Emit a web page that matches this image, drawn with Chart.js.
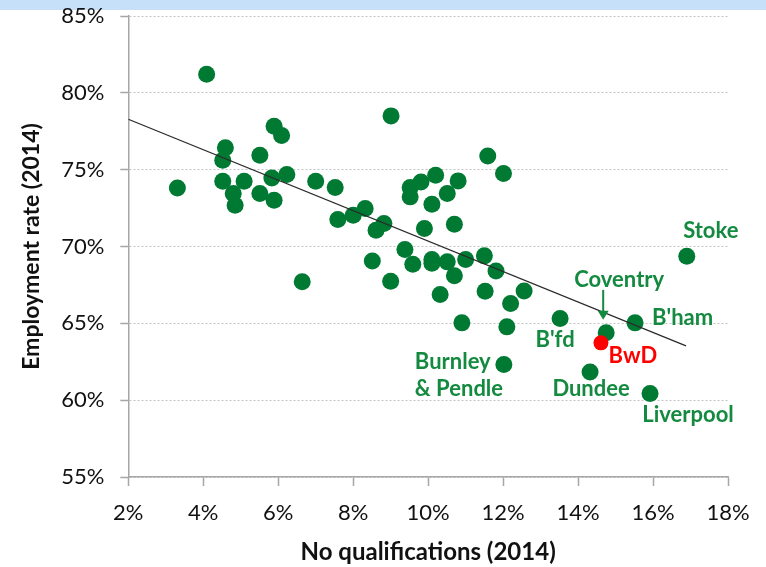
<!DOCTYPE html>
<html>
<head>
<meta charset="utf-8">
<script src="https://cdn.jsdelivr.net/npm/chart.js@4"></script>
<style>
  html, body { margin: 0; padding: 0; background: #fff; }
  #band { position: absolute; left: 0; top: 0; width: 766px; height: 10px; background: #C6E0F9; }
  #wrap { position: absolute; left: 0; top: 0; width: 766px; height: 567px; }
</style>
</head>
<body>
<div id="band"></div>
<div id="wrap"><canvas id="c" width="766" height="567"></canvas></div>
<script>
// ---- data ----
const qualX = [3.31, 4.09, 4.59, 4.52, 4.52, 4.80, 4.85, 5.09, 5.51, 5.51,
               5.83, 5.89, 6.09, 5.89, 6.23, 6.64, 7.00, 7.52, 7.59, 8.00,
               8.32, 8.51, 8.61, 8.82, 9.01, 9.00, 9.38, 9.52, 9.52, 9.59,
               9.81, 9.90, 10.10, 10.20, 10.10, 10.10, 10.32, 10.51, 10.51, 10.70,
               10.70, 10.80, 10.90, 11.00, 11.50, 11.52, 11.59, 11.81, 12.01, 12.10,
               12.20, 12.56];
const empY  = [73.81, 81.21, 76.42, 75.61, 74.25, 73.45, 72.69, 74.25, 75.94, 73.45,
               74.46, 77.83, 77.22, 73.01, 74.68, 67.70, 74.25, 73.84, 71.76, 72.04,
               72.47, 69.06, 71.06, 71.49, 78.50, 67.74, 69.80, 73.84, 73.23, 68.85,
               74.20, 71.17, 72.75, 74.64, 69.15, 68.91, 66.88, 73.45, 69.00, 71.45,
               68.09, 74.27, 65.03, 69.15, 69.39, 67.09, 75.89, 68.41, 74.75, 64.77,
               66.29, 67.11];
const namedPlaces = ["B'fd", "Coventry", "B'ham", "Stoke", "Burnley\n& Pendle", "Dundee", "Liverpool"];
const namedX = [13.52, 14.75, 15.52, 16.90, 12.02, 14.32, 15.92];
const namedY = [65.32, 64.38, 65.03, 69.37, 62.32, 61.84, 60.44];
const bwdName = ["BwD"];
const bwdX = [14.61];
const bwdY = [63.73];
const trendX = [2, 16.88];
const trendY = [78.28, 63.53];
const xTicks = [2, 4, 6, 8, 10, 12, 14, 16, 18];
const yTicks = [55, 60, 65, 70, 75, 80, 85];

// ---- styles ----
const GREEN = '#007A33';
const LABEL_GREEN = '#138A3F';
const RED = '#FF0000';
const FONT = 'Lato, "Liberation Sans", sans-serif';
// label offsets in pixels from the point: [dx, dy, align]
const labelStyle = {
  "B'fd": [-5, 21, 'center'],
  "Coventry": [13, -53, 'center'],
  "B'ham": [17, -5, 'left'],
  "Stoke": [24, -25, 'center'],
  "Burnley\n& Pendle": [-89, -3, 'left'],
  "Dundee": [1, 17, 'center'],
  "Liverpool": [38, 22, 'center'],
  "BwD": [32, 13, 'center']
};

const toPts = (xs, ys) => xs.map((x, i) => ({ x: x, y: ys[i] }));

const labelPlugin = {
  id: 'pointLabels',
  afterDatasetsDraw(chart) {
    const ctx = chart.ctx;
    const xs = chart.scales.x, ys = chart.scales.y;
    ctx.save();
    ctx.font = 'bold 22px ' + FONT;
    ctx.textBaseline = 'middle';
    const drawSet = (names, X, Y, color) => {
      names.forEach((name, i) => {
        const px = xs.getPixelForValue(X[i]);
        const py = ys.getPixelForValue(Y[i]);
        const st = labelStyle[name];
        ctx.fillStyle = color;
        ctx.textAlign = st[2];
        const lines = name.split('\n');
        lines.forEach((ln, j) => {
          ctx.fillText(ln, px + st[0], py + st[1] + j * 27);
        });
        if (name === 'Coventry') {
          const ax = px - 3;
          const y0 = py - 43, y1 = py - 13;
          ctx.strokeStyle = color;
          ctx.lineWidth = 2;
          ctx.beginPath();
          ctx.moveTo(ax, y0);
          ctx.lineTo(ax, y1 - 8);
          ctx.stroke();
          ctx.beginPath();
          ctx.moveTo(ax - 5.5, y1 - 9);
          ctx.lineTo(ax + 5.5, y1 - 9);
          ctx.lineTo(ax, y1);
          ctx.closePath();
          ctx.fill();
        }
      });
    };
    drawSet(namedPlaces, namedX, namedY, LABEL_GREEN);
    drawSet(bwdName, bwdX, bwdY, RED);
    ctx.restore();
  }
};

new Chart(document.getElementById('c'), {
  type: 'scatter',
  data: {
    datasets: [
      {
        type: 'line',
        data: toPts(trendX, trendY),
        borderColor: '#2b2b2b',
        borderWidth: 1.3,
        pointRadius: 0,
        fill: false,
        order: 0
      },
      {
        data: toPts(bwdX, bwdY),
        backgroundColor: RED,
        borderWidth: 0,
        pointRadius: 7.5,
        order: 1
      },
      {
        data: toPts(namedX, namedY),
        backgroundColor: GREEN,
        borderWidth: 0,
        pointRadius: 8.5,
        order: 2
      },
      {
        data: toPts(qualX, empY),
        backgroundColor: GREEN,
        borderWidth: 0,
        pointRadius: 8.5,
        order: 3
      }
    ]
  },
  options: {
    responsive: false,
    animation: false,
    events: [],
    layout: { padding: { top: 16, right: 38, bottom: 0, left: 0 } },
    plugins: { legend: { display: false }, tooltip: { enabled: false } },
    scales: {
      x: {
        type: 'linear',
        min: 2, max: 18,
        afterBuildTicks: (s) => { s.ticks = xTicks.map(v => ({ value: v })); },
        afterFit: (s) => { s.height = 90; s.paddingLeft = 0; s.paddingRight = 0; },
        ticks: {
          callback: (v) => v + '%',
          color: '#111',
          font: { family: FONT, size: 22 },
          padding: 14,
          maxRotation: 0
        },
        grid: { drawOnChartArea: false, drawTicks: true, tickLength: 9, tickColor: '#A6A6A6', tickWidth: 1.5 },
        border: { display: true, color: '#A6A6A6', width: 1.5 },
        title: {
          display: true,
          text: 'No qualifications (2014)',
          color: '#111',
          font: { family: FONT, size: 24, weight: 'bold' },
          padding: { top: 2, bottom: 0 }
        }
      },
      y: {
        type: 'linear',
        min: 55, max: 85,
        afterBuildTicks: (s) => { s.ticks = yTicks.map(v => ({ value: v })); },
        afterFit: (s) => { s.width = 128.3; s.paddingTop = 0; s.paddingBottom = 0; },
        ticks: {
          callback: (v) => v + '%',
          color: '#111',
          font: { family: FONT, size: 22 },
          padding: 16
        },
        grid: { color: '#C4C4C4', lineWidth: 1, drawTicks: true, tickLength: 8, tickColor: '#A6A6A6', tickWidth: 1.5 },
        border: { display: true, color: '#A6A6A6', width: 1.5, dash: [2, 2] },
        title: {
          display: true,
          text: 'Employment rate (2014)',
          color: '#111',
          font: { family: FONT, size: 23, weight: 'bold' },
          padding: { top: 18, bottom: 0 }
        }
      }
    }
  },
  plugins: [labelPlugin]
});
</script>
</body>
</html>
